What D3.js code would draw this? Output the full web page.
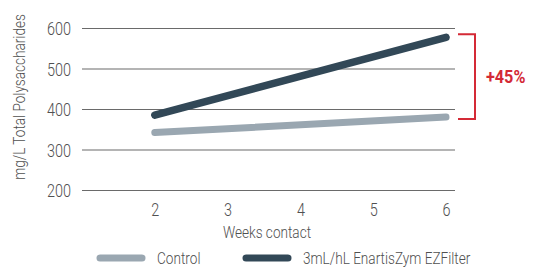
<!DOCTYPE html>
<html>
<head>
<meta charset="utf-8">
<script src="https://cdn.jsdelivr.net/npm/d3@7"></script>
<style>
  body { margin: 0; background: #fff; }
  text { font-family: Roboto, "Liberation Sans", sans-serif; font-weight: 300; fill: #505050; }
</style>
</head>
<body>
<div id="wrapper"></div>
<script>
// weeks and values
const weeks = [2, 6]
const controlValues = [342, 380]
const enzymeValues = [385, 577]
const seriesNames = ["Control", "3mL/hL EnartisZym EZFilter"]
const yTicks = [200, 300, 400, 500, 600]
const xTicks = [2, 3, 4, 5, 6]
const annotationText = "+45%"

// squeeze a text horizontally to mimic a condensed face
function condense(sel, k = 0.76) {
  sel.each(function() {
    const w = this.getComputedTextLength()
    d3.select(this)
      .attr("textLength", w * k)
      .attr("lengthAdjust", "spacingAndGlyphs")
  })
}

function drawChart() {
  let dimensions = {
    width: 540,
    height: 267,
    margin: { top: 28, right: 85, bottom: 77, left: 82 },
  }
  dimensions.boundedWidth = dimensions.width - dimensions.margin.left - dimensions.margin.right
  dimensions.boundedHeight = dimensions.height - dimensions.margin.top - dimensions.margin.bottom

  const svg = d3.select("#wrapper")
    .append("svg")
      .attr("width", dimensions.width)
      .attr("height", dimensions.height)

  const bounds = svg.append("g")
    .attr("transform", `translate(${dimensions.margin.left},${dimensions.margin.top})`)

  const xScale = d3.scaleLinear()
    .domain([1, 6])
    .range([0, 364])

  const yScale = d3.scaleLinear()
    .domain([200, 600])
    .range([dimensions.boundedHeight, 0])

  // gridlines + y labels
  const yAxis = bounds.append("g")
    .call(d3.axisLeft(yScale).tickValues(yTicks).tickFormat(d3.format("d"))
      .tickSize(-dimensions.boundedWidth).tickPadding(11))
  yAxis.select(".domain").remove()
  yAxis.selectAll(".tick line").attr("stroke", "#6a6a6a").attr("stroke-width", 1.2)
  yAxis.selectAll(".tick text")
    .attr("font-size", 19)
    .attr("fill", null)
    .attr("dy", "0.36em")
    .call(condense)

  // x labels
  const xAxis = bounds.append("g")
    .attr("transform", `translate(0,${dimensions.boundedHeight})`)
    .call(d3.axisBottom(xScale).tickValues(xTicks).tickFormat(d3.format("d")).tickSize(0).tickPadding(13))
  xAxis.select(".domain").remove()
  xAxis.selectAll(".tick text").attr("font-size", 19).attr("fill", null).call(condense)

  bounds.append("text")
    .attr("x", 185)
    .attr("y", dimensions.boundedHeight + 48)
    .attr("text-anchor", "middle")
    .attr("font-size", 17)
    .text("Weeks contact")
    .call(condense, 0.8)

  // y title: squeezed with a transform so its box stays honest
  svg.append("text")
    .attr("transform", `translate(25,97) rotate(-90) scale(0.8,1)`)
    .attr("text-anchor", "middle")
    .attr("font-size", 17)
    .text("mg/L Total Polysaccharides")

  const series = [
    { name: seriesNames[0], values: controlValues, color: "#9aa7b1", width: 7 },
    { name: seriesNames[1], values: enzymeValues, color: "#324857", width: 7.5 },
  ]

  const lineGenerator = d3.line()
    .x(d => xScale(d[0]))
    .y(d => yScale(d[1]))

  series.forEach(s => {
    bounds.append("path")
      .attr("d", lineGenerator(d3.zip(weeks, s.values)))
      .attr("fill", "none")
      .attr("stroke", s.color)
      .attr("stroke-width", s.width)
      .attr("stroke-linecap", "round")
  })

  // bracket annotation
  const lastX = xScale(weeks[weeks.length - 1])
  const yTop = yScale(enzymeValues[enzymeValues.length - 1]) - 3
  const yBot = yScale(controlValues[controlValues.length - 1]) + 2
  const bx0 = lastX + 12
  const bx1 = lastX + 29
  bounds.append("path")
    .attr("d", `M${bx0},${yTop} H${bx1} V${yBot} H${bx0}`)
    .attr("fill", "none")
    .attr("stroke", "#d42a36")
    .attr("stroke-width", 2)
  bounds.append("text")
    .attr("x", bx1 + 11)
    .attr("y", (yTop + yBot) / 2)
    .attr("dy", "0.35em")
    .attr("font-size", 18)
    .style("fill", "#d42a36")
    .style("font-weight", 700)
    .text(annotationText)
    .call(condense, 0.9)

  // legend
  const legend = svg.append("g").attr("transform", "translate(0,258)")
  const legendX = [97, 243]
  series.forEach((s, i) => {
    legend.append("line")
      .attr("x1", legendX[i] + 3).attr("x2", legendX[i] + 45)
      .attr("stroke", s.color)
      .attr("stroke-width", 7)
      .attr("stroke-linecap", "round")
    legend.append("text")
      .attr("x", legendX[i] + 60)
      .attr("dy", "0.35em")
      .attr("font-size", 17)
      .text(s.name)
      .call(condense, 0.8)
  })
}

drawChart()
</script>
</body>
</html>
